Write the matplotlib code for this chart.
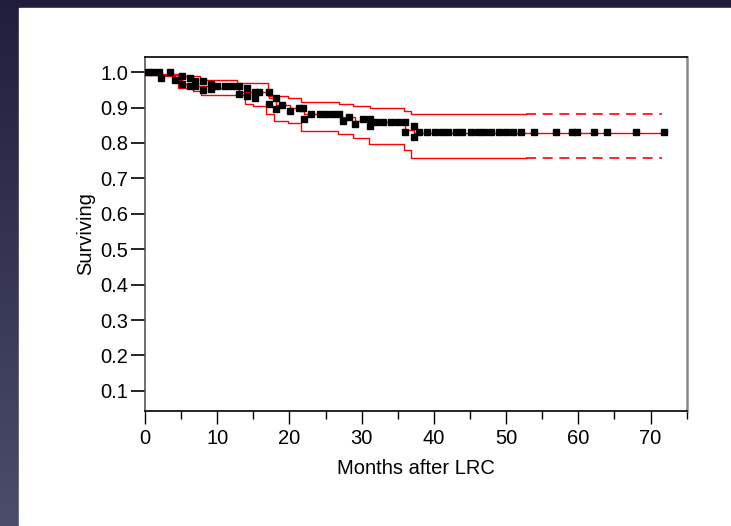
import numpy as np
import matplotlib.pyplot as plt
from matplotlib.patches import Rectangle
from matplotlib.ticker import MultipleLocator

plt.rcParams['font.family'] = ['Liberation Sans', 'DejaVu Sans']

# Kaplan-Meier estimate (time of step, level after step)
surv_t = [0, 2.2, 4.1, 5.1, 6.2, 9.2, 13.0, 17.1, 18.2, 20.1, 21.95, 26.9, 29.1, 31.2, 36.0, 37.2]
surv_s = [1.0, 0.989, 0.978, 0.967, 0.960, 0.955, 0.944, 0.928, 0.906, 0.900, 0.883, 0.872, 0.862, 0.858, 0.838, 0.827]

# confidence limits
upper_t = [0, 2.2, 5.1, 7.6, 12.8, 17.0, 19.8, 21.6, 26.8, 28.8, 31.1, 35.9, 36.8]
upper_s = [1.0, 0.996, 0.990, 0.978, 0.969, 0.932, 0.928, 0.916, 0.910, 0.904, 0.900, 0.891, 0.883]
lower_t = [0, 4.6, 6.7, 7.8, 13.8, 14.9, 16.8, 17.9, 19.8, 21.6, 26.7, 28.8, 31.0, 35.8, 36.8]
lower_s = [0.993, 0.956, 0.946, 0.935, 0.911, 0.904, 0.883, 0.863, 0.856, 0.834, 0.826, 0.814, 0.798, 0.781, 0.758]

end_t = 71.6
surv_end = 72.0
dash_from = 52.7

# plotted sample points
pts_t = [0.4, 1.1, 2.0, 2.2, 3.45, 4.1, 5.1, 5.1, 6.2, 6.2, 6.9, 6.9, 8.05, 8.05, 9.15, 9.15,
         10.0, 11.1, 12.1, 13.0, 13.0, 14.1, 14.1, 15.2, 15.2, 15.8, 17.1, 17.1, 18.2, 18.2,
         19.0, 20.1, 21.3, 21.9, 21.95, 23.05, 24.2, 25.1, 26.0, 26.9, 27.4, 28.2, 29.1,
         30.2, 31.2, 31.2, 32.0, 33.0, 34.1, 35.0, 36.0, 36.0, 37.2, 37.2,
         37.9, 39.0, 40.1, 41.1, 42.0, 43.0, 43.9, 45.1, 46.1, 46.9, 47.9, 49.0, 50.0, 51.0,
         52.1, 53.9, 56.9, 59.1, 59.8, 62.1, 64.0, 68.0, 71.8]
pts_s = [1.0, 1.0, 1.0, 0.983, 1.0, 0.978, 0.989, 0.966, 0.983, 0.960, 0.974, 0.960, 0.974, 0.950,
         0.968, 0.953, 0.960, 0.960, 0.960, 0.960, 0.939, 0.955, 0.932, 0.944, 0.928, 0.944,
         0.944, 0.911, 0.928, 0.895, 0.906, 0.890, 0.900, 0.900, 0.867, 0.883, 0.883, 0.883,
         0.883, 0.883, 0.863, 0.872, 0.854, 0.868, 0.868, 0.847, 0.858, 0.858, 0.858, 0.858,
         0.858, 0.830, 0.847, 0.818,
         0.830, 0.830, 0.830, 0.830, 0.830, 0.830, 0.830, 0.830, 0.830, 0.830, 0.830, 0.830,
         0.830, 0.830, 0.830, 0.830, 0.830, 0.830, 0.830, 0.830, 0.830, 0.830, 0.830]


def step_xy(t, s, t_end):
    x = list(t) + [t_end]
    y = list(s) + [s[-1]]
    return np.array(x), np.array(y)


fig = plt.figure(figsize=(7.31, 5.26), dpi=100)

# slide background: dark gradient band on top and left
bg = fig.add_axes([0, 0, 1, 1], zorder=-10)
grad = np.linspace(0, 1, 256).reshape(-1, 1)
top_c = np.array([0x20, 0x1e, 0x3c]) / 255
bot_c = np.array([0x4b, 0x4d, 0x6a]) / 255
img = top_c + (bot_c - top_c) * grad[:, :, None]
bg.imshow(img, aspect='auto', extent=[0, 1, 0, 1], origin='upper')
bg.add_patch(Rectangle((19 / 731, 0), 1, 1 - 8 / 526, color='white', transform=bg.transAxes))
bg.set_xlim(0, 1)
bg.set_ylim(0, 1)
bg.axis('off')

ax = fig.add_axes([145 / 731, 1 - 410.7 / 526, (686.7 - 145) / 731, (410.7 - 57.3) / 526])
ax.set_facecolor('none')

red = '#ff0000'
for t, s, te in [(upper_t, upper_s, end_t), (lower_t, lower_s, end_t)]:
    x, y = step_xy(t, s, te)
    solid = x < dash_from
    xs = list(x[solid]) + [dash_from]
    ys = list(y[solid]) + [y[-1]]
    ax.step(xs, ys, where='post', color=red, lw=1.0)
    ax.plot([dash_from, te], [y[-1], y[-1]], color=red, lw=1.2, dashes=(6, 4))

x, y = step_xy(surv_t, surv_s, surv_end)
ax.step(x, y, where='post', color=red, lw=1.0)

ax.plot(pts_t, pts_s, ls='none', marker='s', ms=4.6, color='black', mec='black', zorder=5)

ax.set_xlim(0, 75)
ax.set_ylim(0.044, 1.042)
ax.xaxis.set_major_locator(MultipleLocator(10))
ax.xaxis.set_minor_locator(MultipleLocator(5))
ax.set_yticks(np.arange(0.1, 1.01, 0.1))
ax.set_yticklabels([f'{v:.1f}' for v in np.arange(0.1, 1.01, 0.1)])

ax.tick_params(axis='x', which='major', length=9, width=1, pad=4, labelsize=14.5)
ax.tick_params(axis='x', which='minor', length=5.5, width=1)
ax.tick_params(axis='y', which='major', length=10, width=1.2, pad=2, labelsize=14.5)

for sp in ['top', 'bottom']:
    ax.spines[sp].set_color('black')
    ax.spines[sp].set_linewidth(1.2)
ax.spines['left'].set_color('#555555')
ax.spines['left'].set_linewidth(1.2)
ax.spines['right'].set_color('#888888')
ax.spines['right'].set_linewidth(1.8)

ax.set_xlabel('Months after LRC', fontsize=14.5, labelpad=8)
ax.set_ylabel('Surviving', fontsize=14.5, labelpad=4)

fig.savefig('out.png', dpi=100)
